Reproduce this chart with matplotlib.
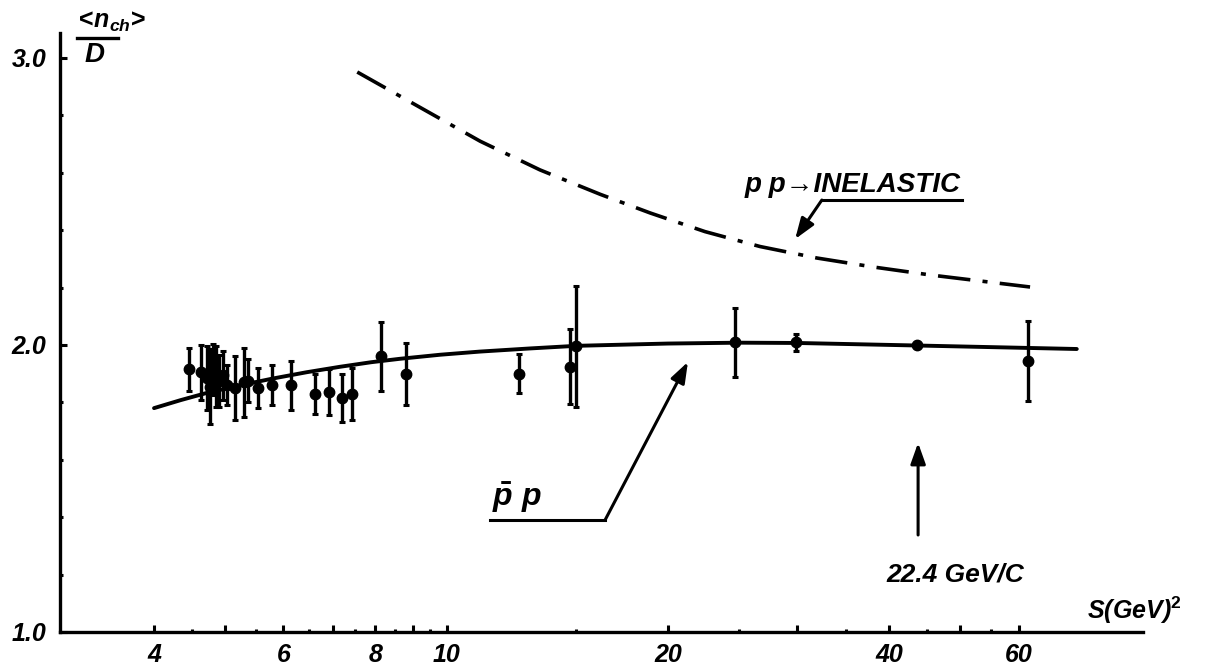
import matplotlib.pyplot as plt
from matplotlib.lines import Line2D

plt.rcParams['font.family'] = ['Liberation Sans', 'DejaVu Sans']
plt.rcParams['font.weight'] = 'bold'
plt.rcParams['mathtext.fontset'] = 'custom'
plt.rcParams['mathtext.it'] = 'Liberation Sans:italic:bold'
plt.rcParams['mathtext.rm'] = 'Liberation Sans:bold'
plt.rcParams['mathtext.bf'] = 'Liberation Sans:bold'

# ---- data ----
# measured pbar-p points: s (GeV^2), <n_ch>/D and error
s_pts = [4.46, 4.64, 4.72, 4.77, 4.81, 4.86, 4.91, 4.97, 5.03, 5.16, 5.30, 5.37,
         5.54, 5.79, 6.14, 6.62, 6.92, 7.21, 7.44, 8.15, 8.81, 12.56, 14.72,
         15.0, 24.7, 29.9, 43.7, 61.8]
ratio_pts = [1.915, 1.905, 1.885, 1.855, 1.915, 1.89, 1.875, 1.895, 1.86, 1.85,
             1.87, 1.875, 1.85, 1.86, 1.86, 1.83, 1.835, 1.815, 1.83, 1.96, 1.90,
             1.90, 1.925, 1.995, 2.01, 2.01, 2.00, 1.945]
ratio_err = [0.075, 0.095, 0.11, 0.13, 0.09, 0.105, 0.09, 0.085, 0.07, 0.11,
             0.12, 0.075, 0.07, 0.07, 0.085, 0.07, 0.08, 0.085, 0.09, 0.12, 0.108,
             0.068, 0.13, 0.21, 0.12, 0.03, 0.01, 0.14]

# solid curve (pbar p fit)
s_fit = [4.0, 4.35, 4.72, 5.25, 5.80, 6.45, 7.16, 7.9, 8.65, 9.8, 11.1, 13.0,
         15.0, 20.0, 25.0, 30.0, 44.0, 72.0]
ratio_fit = [1.78, 1.808, 1.833, 1.86, 1.883, 1.905, 1.924, 1.94, 1.952, 1.966,
             1.977, 1.988, 1.997, 2.005, 2.008, 2.007, 1.998, 1.986]

# dash-dot curve (pp -> inelastic)
s_pp = [7.56, 9.20, 11.11, 13.40, 16.18, 18.92, 22.47, 26.7, 31.9, 38.0, 45.5,
        53.2, 62.2]
ratio_pp = [2.951, 2.828, 2.71, 2.61, 2.525, 2.46, 2.395, 2.343, 2.303, 2.272,
            2.244, 2.223, 2.202]

x_major = [4, 5, 6, 7, 8, 9, 10, 20, 30, 40, 50, 60]
x_labels = ['4', '', '6', '', '8', '', '10', '20', '', '40', '', '60']
x_minor = [4.5, 5.5, 6.5, 7.5, 8.5, 9.5, 15, 25, 35, 45, 55]
y_major = [1.0, 2.0, 3.0]
y_minor = [1.2, 1.4, 1.6, 1.8, 2.2, 2.4, 2.6, 2.8]

# ---- figure ----
fig = plt.figure(figsize=(12.13, 6.68), dpi=100)
ax = fig.add_axes([0.0495, 0.0539, 0.8928, 0.8967])

ax.set_xscale('log')
ax.set_xlim(2.98, 88.6)
ax.set_ylim(1.0, 3.087)

ax.plot(s_fit, ratio_fit, color='black', lw=2.8, solid_capstyle='round')
ax.plot(s_pp, ratio_pp, color='black', lw=2.6, dashes=(9.0, 3.4, 1.4, 3.4))
ax.errorbar(s_pts, ratio_pts, yerr=ratio_err, fmt='o', color='black', ms=7.5,
            elinewidth=2.4, capsize=2, capthick=2.2)

# axes styling
for side in ['top', 'right']:
    ax.spines[side].set_visible(False)
for side in ['left', 'bottom']:
    ax.spines[side].set_linewidth(2.4)

ax.set_xticks(x_major)
ax.set_xticklabels(x_labels)
ax.set_xticks(x_minor, minor=True)
ax.set_xticklabels([], minor=True)
ax.set_yticks(y_major)
ax.set_yticklabels(['1.0', '2.0', '3.0'])
ax.set_yticks(y_minor, minor=True)
ax.tick_params(which='major', direction='in', length=5, width=2.2, labelsize=18)
ax.tick_params(which='minor', direction='in', length=2.5, width=2.2)
ax.tick_params(axis='x', which='major', pad=8)
ax.tick_params(axis='y', which='major', pad=10)
for lab in ax.get_xticklabels() + ax.get_yticklabels():
    lab.set_style('italic')
    lab.set_weight('bold')

# y axis label: <n_ch> over D
fig.text(0.0907, 0.967, r'$<\!n_{ch}\!>$', fontsize=18, ha='center', va='center')
fig.add_artist(Line2D([0.0635, 0.0973], [0.943, 0.943], color='black', lw=2.4))
fig.text(0.0783, 0.918, 'D', fontsize=20, style='italic', ha='center', va='center')

# x axis label
ax.text(0.948, 0.037, r'S(GeV)$^{\mathbf{2}}$', transform=ax.transAxes, fontsize=18,
        style='italic', ha='left', va='center', clip_on=False)

# pp -> inelastic annotation
ax.text(25.4, 2.557, 'p p\u2192INELASTIC', fontsize=20, style='italic',
        ha='left', va='center')
ax.plot([50.3, 32.4], [2.505, 2.505], color='black', lw=2.2)
ax.annotate('', xy=(29.8, 2.369), xytext=(32.4, 2.505),
            arrowprops=dict(arrowstyle='-|>,head_length=0.7,head_width=0.25',
                            color='black', lw=2.2, mutation_scale=18,
                            shrinkA=0, shrinkB=0))

# pbar p annotation
ax.text(12.47, 1.47, r'$\bar{p}\ p$', fontsize=23, ha='center', va='center')
ax.plot([11.46, 16.43], [1.39, 1.39], color='black', lw=2.2)
ax.annotate('', xy=(21.3, 1.941), xytext=(16.43, 1.39),
            arrowprops=dict(arrowstyle='-|>,head_length=0.7,head_width=0.25',
                            color='black', lw=2.2, mutation_scale=18,
                            shrinkA=0, shrinkB=0))

# 22.4 GeV/c marker
ax.annotate('', xy=(43.8, 1.659), xytext=(43.8, 1.338),
            arrowprops=dict(arrowstyle='-|>,head_length=0.7,head_width=0.25',
                            color='black', lw=2.2, mutation_scale=18,
                            shrinkA=0, shrinkB=0))
ax.text(49.2, 1.199, '22.4 GeV/C', fontsize=19, style='italic',
        ha='center', va='center')

fig.savefig('out.png', dpi=100)
